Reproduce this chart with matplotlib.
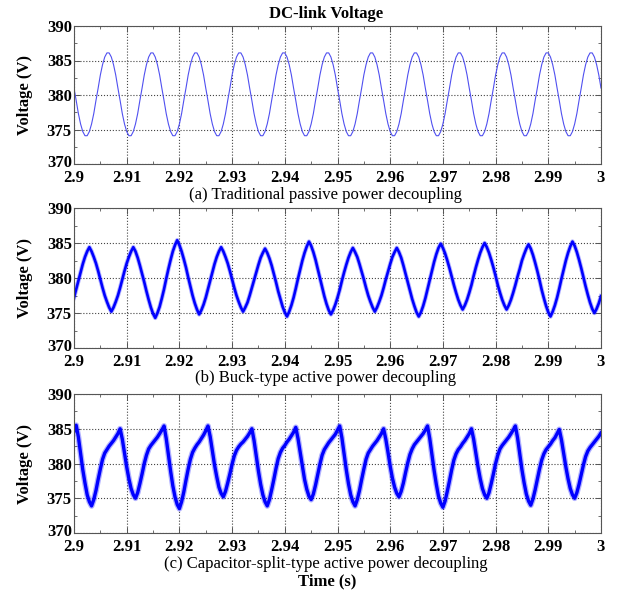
import numpy as np
import matplotlib
matplotlib.use('Agg')
import matplotlib.pyplot as plt
import matplotlib.transforms as mtransforms
from matplotlib.ticker import MultipleLocator

plt.rcParams['font.family'] = ['Liberation Serif', 'DejaVu Serif']

# sample times, 20 samples per 120 Hz ripple period
t = np.linspace(2.9, 3.0, 241)

# (a) traditional passive decoupling
v_passive = [
    381.0, 379.2, 377.3, 375.8, 374.7, 374.1, 374.1, 374.7, 375.8, 377.3, 379.2, 381.0, 382.9, 384.4, 385.5, 386.1, 386.1, 385.5, 384.4, 382.9,
    381.0, 379.2, 377.3, 375.8, 374.7, 374.1, 374.1, 374.7, 375.8, 377.3, 379.2, 381.0, 382.9, 384.4, 385.5, 386.1, 386.1, 385.5, 384.4, 382.9,
    381.0, 379.2, 377.3, 375.8, 374.7, 374.1, 374.1, 374.7, 375.8, 377.3, 379.2, 381.0, 382.9, 384.4, 385.5, 386.1, 386.1, 385.5, 384.4, 382.9,
    381.0, 379.2, 377.3, 375.8, 374.7, 374.1, 374.1, 374.7, 375.8, 377.3, 379.2, 381.0, 382.9, 384.4, 385.5, 386.1, 386.1, 385.5, 384.4, 382.9,
    381.0, 379.2, 377.3, 375.8, 374.7, 374.1, 374.1, 374.7, 375.8, 377.3, 379.2, 381.0, 382.9, 384.4, 385.5, 386.1, 386.1, 385.5, 384.4, 382.9,
    381.0, 379.2, 377.3, 375.8, 374.7, 374.1, 374.1, 374.7, 375.8, 377.3, 379.2, 381.0, 382.9, 384.4, 385.5, 386.1, 386.1, 385.5, 384.4, 382.9,
    381.0, 379.2, 377.3, 375.8, 374.7, 374.1, 374.1, 374.7, 375.8, 377.3, 379.2, 381.0, 382.9, 384.4, 385.5, 386.1, 386.1, 385.5, 384.4, 382.9,
    381.0, 379.2, 377.3, 375.8, 374.7, 374.1, 374.1, 374.7, 375.8, 377.3, 379.2, 381.0, 382.9, 384.4, 385.5, 386.1, 386.1, 385.5, 384.4, 382.9,
    381.0, 379.2, 377.3, 375.8, 374.7, 374.1, 374.1, 374.7, 375.8, 377.3, 379.2, 381.0, 382.9, 384.4, 385.5, 386.1, 386.1, 385.5, 384.4, 382.9,
    381.0, 379.2, 377.3, 375.8, 374.7, 374.1, 374.1, 374.7, 375.8, 377.3, 379.2, 381.0, 382.9, 384.4, 385.5, 386.1, 386.1, 385.5, 384.4, 382.9,
    381.0, 379.2, 377.3, 375.8, 374.7, 374.1, 374.1, 374.7, 375.8, 377.3, 379.2, 381.0, 382.9, 384.4, 385.5, 386.1, 386.1, 385.5, 384.4, 382.9,
    381.0, 379.2, 377.3, 375.8, 374.7, 374.1, 374.1, 374.7, 375.8, 377.3, 379.2, 381.0, 382.9, 384.4, 385.5, 386.1, 386.1, 385.5, 384.4, 382.9,
    381.0,
]

# (b) buck-type active decoupling
v_buck = [
    377.2, 378.4, 379.6, 380.8, 382.0, 383.0, 383.8, 384.4,
    383.8, 383.0, 382.1, 381.0, 379.8, 378.6, 377.5, 376.6, 375.8, 375.2,
    375.8, 376.6, 377.5, 378.6, 379.8, 381.0, 382.1, 383.0, 383.8, 384.4,
    383.8, 382.9, 381.8, 380.6, 379.4, 378.1, 376.9, 375.8, 374.9, 374.3,
    375.0, 375.9, 377.1, 378.4, 379.9, 381.3, 382.6, 383.8, 384.7, 385.4,
    384.7, 383.8, 382.7, 381.5, 380.1, 378.8, 377.5, 376.4, 375.5, 374.8,
    375.4, 376.2, 377.2, 378.4, 379.6, 380.8, 382.0, 383.0, 383.8, 384.4,
    383.8, 383.0, 382.1, 381.0, 379.8, 378.6, 377.5, 376.6, 375.8, 375.2,
    375.8, 376.5, 377.5, 378.6, 379.7, 380.8, 381.9, 382.9, 383.6, 384.2,
    383.6, 382.8, 381.8, 380.6, 379.4, 378.1, 377.0, 375.9, 375.1, 374.5,
    375.2, 376.1, 377.2, 378.5, 379.9, 381.2, 382.5, 383.6, 384.5, 385.2,
    384.6, 383.7, 382.6, 381.3, 380.0, 378.7, 377.4, 376.3, 375.4, 374.8,
    375.4, 376.2, 377.2, 378.3, 379.6, 380.8, 381.9, 382.9, 383.7, 384.3,
    383.7, 383.0, 382.0, 380.9, 379.8, 378.6, 377.5, 376.6, 375.8, 375.2,
    375.8, 376.6, 377.5, 378.6, 379.8, 380.9, 382.0, 383.0, 383.7, 384.3,
    383.7, 382.9, 381.8, 380.6, 379.4, 378.2, 377.0, 376.0, 375.1, 374.5,
    375.1, 376.0, 377.1, 378.4, 379.7, 381.0, 382.3, 383.4, 384.3, 384.9,
    384.3, 383.5, 382.5, 381.4, 380.2, 379.0, 377.9, 376.9, 376.1, 375.5,
    376.1, 376.9, 377.9, 379.0, 380.3, 381.5, 382.6, 383.6, 384.4, 385.0,
    384.4, 383.6, 382.6, 381.5, 380.3, 379.0, 377.9, 376.9, 376.1, 375.5,
    376.1, 376.9, 377.9, 379.0, 380.2, 381.3, 382.5, 383.4, 384.2, 384.8,
    384.2, 383.3, 382.2, 381.0, 379.7, 378.3, 377.1, 376.0, 375.1, 374.5,
    375.2, 376.1, 377.2, 378.5, 379.9, 381.2, 382.5, 383.6, 384.5, 385.2,
    384.6, 383.7, 382.6, 381.4, 380.1, 378.8, 377.6, 376.5, 375.6, 375.0,
    375.6, 376.4, 377.4,
]

# (c) capacitor-split-type active decoupling
v_split = [
    384.6, 385.5,
    383.8, 381.4, 379.1, 377.2, 375.5, 374.5, 373.9,
    374.8, 376.1, 377.7, 379.2, 380.6, 381.5, 382.0, 382.5, 382.9, 383.3, 383.8, 384.3, 385.0,
    383.5, 381.5, 379.5, 377.8, 376.4, 375.5, 375.0,
    375.8, 377.1, 378.5, 380.0, 381.2, 382.1, 382.6, 383.0, 383.4, 383.8, 384.3, 384.8, 385.4,
    383.6, 381.2, 378.9, 376.8, 375.2, 374.1, 373.5,
    374.5, 375.9, 377.6, 379.2, 380.6, 381.6, 382.2, 382.7, 383.1, 383.6, 384.1, 384.7, 385.4,
    383.9, 381.8, 379.8, 378.1, 376.6, 375.7, 375.2,
    376.0, 377.2, 378.5, 379.9, 381.1, 381.9, 382.4, 382.8, 383.1, 383.5, 383.9, 384.4, 385.0,
    383.3, 381.1, 378.9, 377.0, 375.5, 374.5, 373.9,
    374.8, 376.2, 377.7, 379.3, 380.7, 381.6, 382.2, 382.6, 383.1, 383.5, 384.0, 384.5, 385.2,
    383.6, 381.6, 379.5, 377.7, 376.3, 375.3, 374.8,
    375.6, 376.9, 378.4, 379.9, 381.2, 382.0, 382.5, 383.0, 383.4, 383.8, 384.2, 384.8, 385.4,
    383.7, 381.4, 379.1, 377.1, 375.5, 374.5, 373.9,
    374.8, 376.1, 377.7, 379.2, 380.6, 381.5, 382.0, 382.5, 382.9, 383.3, 383.8, 384.3, 385.0,
    383.5, 381.6, 379.6, 377.9, 376.6, 375.7, 375.2,
    376.0, 377.2, 378.7, 380.1, 381.3, 382.1, 382.7, 383.1, 383.5, 383.9, 384.3, 384.8, 385.4,
    383.6, 381.3, 379.0, 377.0, 375.3, 374.3, 373.7,
    374.6, 376.0, 377.5, 379.1, 380.5, 381.4, 382.0, 382.4, 382.9, 383.3, 383.8, 384.3, 385.0,
    383.5, 381.5, 379.5, 377.8, 376.4, 375.5, 375.0,
    375.8, 377.1, 378.5, 380.0, 381.2, 382.1, 382.6, 383.0, 383.4, 383.8, 384.3, 384.8, 385.4,
    383.7, 381.4, 379.1, 377.2, 375.6, 374.6, 374.0,
    374.9, 376.2, 377.7, 379.2, 380.5, 381.4, 382.0, 382.4, 382.8, 383.3, 383.7, 384.3, 384.9,
    383.4, 381.4, 379.5, 377.8, 376.4, 375.5, 375.0,
    375.8, 377.0, 378.4, 379.8, 381.0, 381.8, 382.3, 382.7, 383.1, 383.5, 383.9, 384.4,
]

x_ticks = [2.9, 2.91, 2.92, 2.93, 2.94, 2.95, 2.96, 2.97, 2.98, 2.99, 3.0]
x_labels = ['2.9', '2.91', '2.92', '2.93', '2.94', '2.95', '2.96', '2.97', '2.98', '2.99', '3']
y_ticks = [370, 375, 380, 385, 390]

captions = ['(a) Traditional passive power decoupling',
            '(b) Buck-type active power decoupling',
            '(c) Capacitor-split-type active power decoupling']
series = [v_passive, v_buck, v_split]
colors = ['#5050f0', '#0000ff', '#0000ff']
widths = [0.8, 1.9, 2.4]
halo = [0, 3.2, 4.2]   # light band for the switching ripple

W, H = 618, 593
fig = plt.figure(figsize=(W / 100, H / 100), dpi=100)

# axes boxes in pixels: (top, bottom)
boxes = [(26, 164), (208, 348), (394, 533)]
cap_y = [195, 378, 564]
left, right = 74, 601

for i in range(3):
    top, bot = boxes[i]
    ax = fig.add_axes([left / W, 1 - bot / H, (right - left) / W, (bot - top) / H])
    if halo[i]:
        ax.plot(t, series[i], color=colors[i], lw=halo[i], alpha=0.3, solid_joinstyle='round')
    ax.plot(t, series[i], color=colors[i], lw=widths[i], solid_joinstyle='round')
    ax.set_xlim(2.9, 3.0)
    ax.set_ylim(370, 390)
    ax.set_xticks(x_ticks)
    ax.set_xticklabels(x_labels)
    ax.set_yticks(y_ticks)
    ax.xaxis.set_minor_locator(MultipleLocator(0.005))
    ax.yaxis.set_minor_locator(MultipleLocator(2.5))
    ax.grid(True, which='major', linestyle=':', color='#444444', lw=0.8)
    ax.tick_params(which='both', direction='in', top=True, right=True,
                   color='#555555', labelsize=12)
    ax.tick_params(axis='x', pad=4.5)
    ax.tick_params(axis='y', pad=1.5)
    ax.tick_params(which='major', length=4, width=0.7)
    ax.tick_params(which='minor', length=2.5, width=0.6)
    for lab in ax.get_xticklabels() + ax.get_yticklabels():
        lab.set_fontweight('bold')
    # lift the bottom y label a little so it clears the first x label
    ylab0 = ax.get_yticklabels()[0]
    ylab0.set_transform(ylab0.get_transform() +
                        mtransforms.ScaledTranslation(0, 3 / 100, fig.dpi_scale_trans))
    for sp in ax.spines.values():
        sp.set_color('#555555')
        sp.set_linewidth(0.8)
    fig.text(25 / W, 1 - (top + bot) / 2 / H, 'Voltage (V)', rotation=90,
             ha='center', va='center', fontsize=12, fontweight='bold')
    fig.text(326 / W, 1 - cap_y[i] / H, captions[i], ha='center', va='center', fontsize=12)

fig.text(326 / W, 1 - 14 / H, 'DC-link Voltage', ha='center', va='center',
         fontsize=12, fontweight='bold')
fig.text(327 / W, 1 - 581 / H, 'Time (s)', ha='center', va='center',
         fontsize=12, fontweight='bold')

fig.savefig('out.png', dpi=100)
